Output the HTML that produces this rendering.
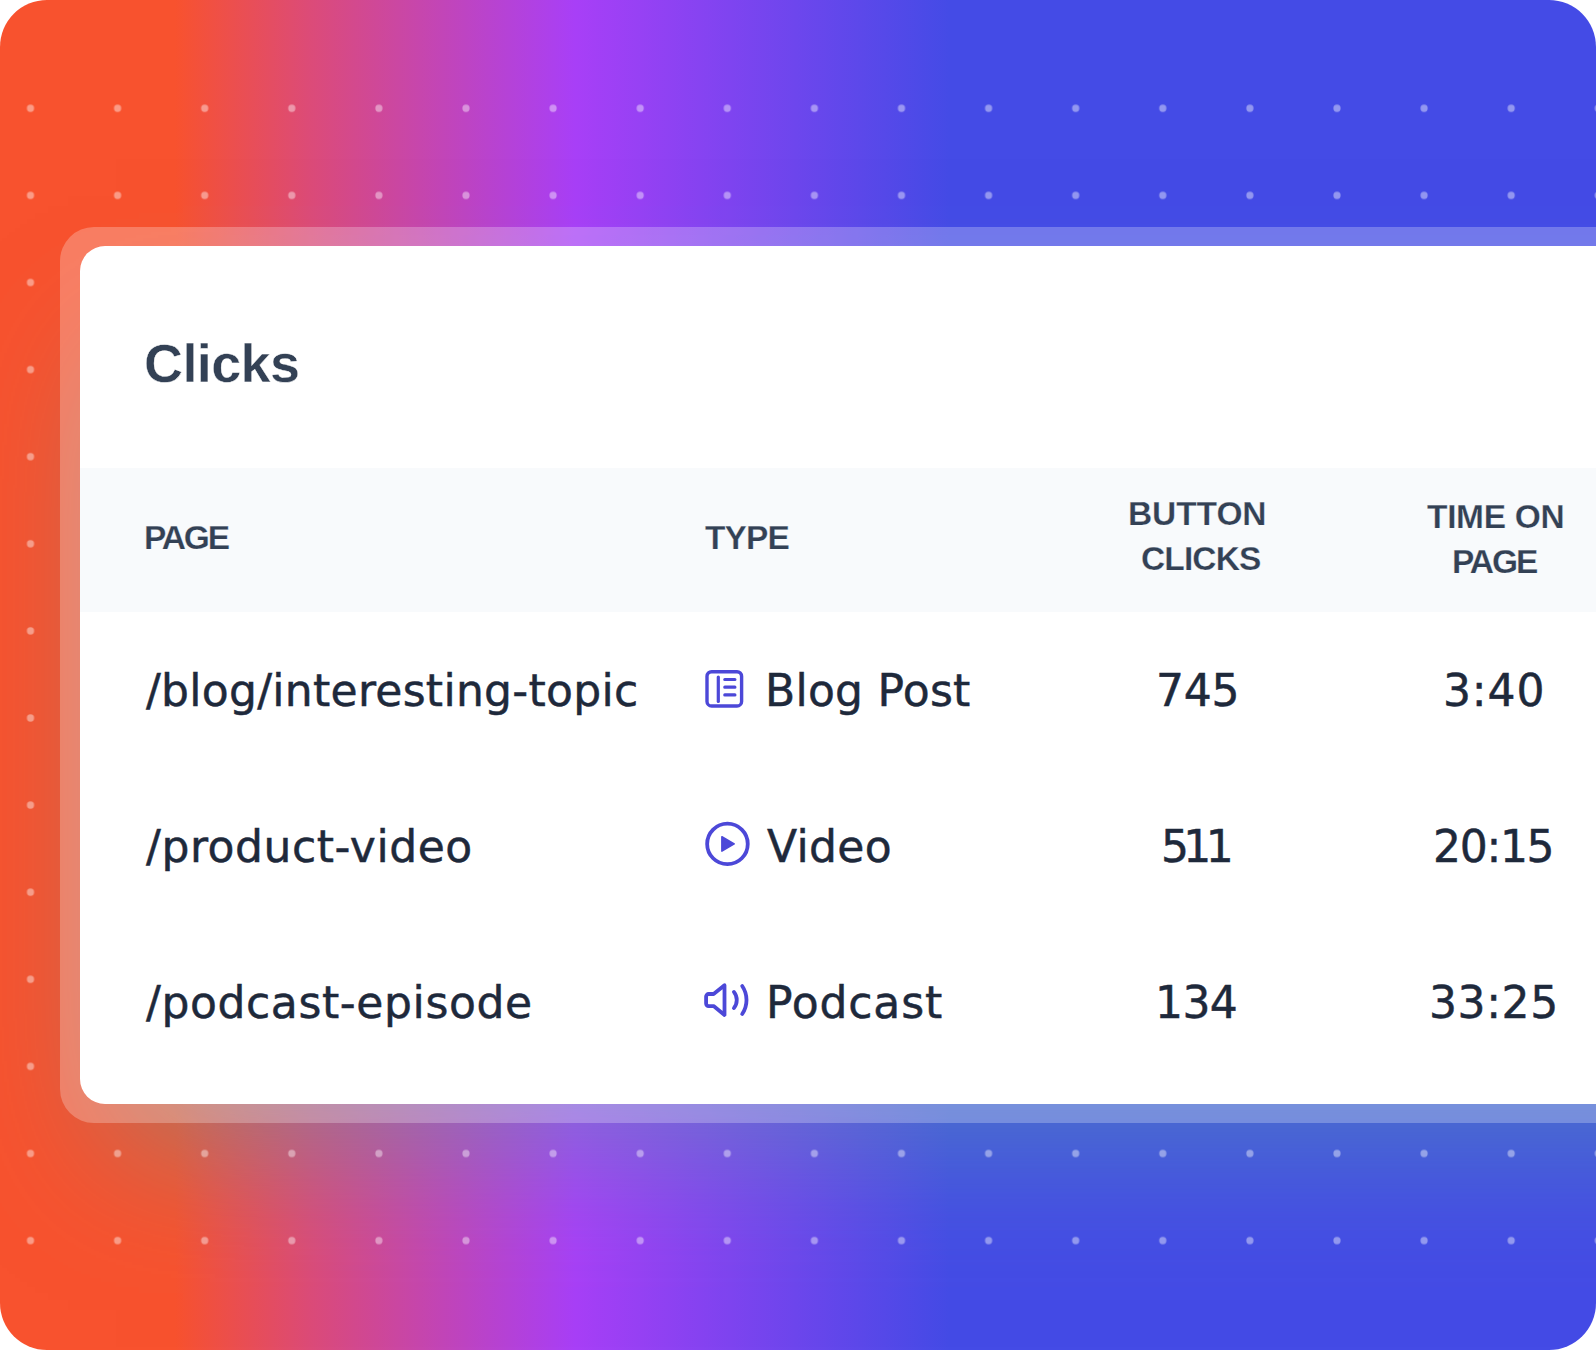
<!DOCTYPE html>
<html lang="en">
<head>
<meta charset="utf-8">
<title>Clicks</title>
<style>
*{box-sizing:border-box;margin:0;padding:0}
html,body{width:1596px;height:1350px;background:#fff;overflow:hidden}
body{font-family:"Liberation Sans",Arial,sans-serif;position:relative}
.bg{position:absolute;left:0;top:0;width:1596px;height:1350px;border-radius:47px;overflow:hidden;
background:linear-gradient(90deg,#f8522e 0px,#f8522e 175px,#dc4b78 310px,#a83ff7 575px,#444be6 950px,#444be6 1596px)}
.dots{position:absolute;left:0;top:0;width:1596px;height:1350px}
.card{position:absolute;left:60px;top:227px;width:1600px;height:896px;border-radius:34px 0 0 34px;background:rgba(255,255,255,.25)}
.inner{position:absolute;left:80px;top:246px;width:1600px;height:858px;border-radius:25px 0 0 25px;background:#fff;overflow:hidden}
.shadow{position:absolute;left:80px;top:246px;width:2400px;height:858px;border-radius:25px 0 0 25px;box-shadow:0 78px 135px -36px rgba(85,165,170,.5)}
.thead{position:absolute;left:0;top:222px;width:1600px;height:144px;background:#f8fafc}
.t{position:absolute;white-space:nowrap;line-height:1}
.title{color:#334155;font-weight:bold;font-size:54px;-webkit-text-stroke:.4px #fff}
.th{color:#334155;font-weight:bold;font-size:33.5px;-webkit-text-stroke:.25px #f8fafc}
.td{color:#1e293b;font-size:44px;-webkit-text-stroke:.5px #1e293b;font-family:"DejaVu Sans","Liberation Sans",sans-serif}
svg.ic{position:absolute;overflow:visible}
</style>
</head>
<body>
<div class="bg">
<div class="shadow"></div>
<svg class="dots" width="1596" height="1350">
<defs><pattern id="dp" x="-13.05" y="64.75" width="87.1" height="87.1" patternUnits="userSpaceOnUse"><circle cx="43.55" cy="43.55" r="3.6" fill="#fff" fill-opacity=".42"/></pattern></defs>
<rect x="0" y="64.75" width="1596" height="1219.4" fill="url(#dp)"/>
</svg>
<div class="card"></div>
<div class="inner">
<div class="thead"></div>
</div>

<div id="t0" class="t title" style="left:144.00px;top:336.00px;letter-spacing:-0.620px">Clicks</div>
<div id="h0" class="t th" style="left:144.00px;top:521.00px;letter-spacing:-2.133px">PAGE</div>
<div id="h1" class="t th" style="left:705.00px;top:521.00px;letter-spacing:-0.900px">TYPE</div>
<div id="h2" class="t th" style="left:1128.00px;top:497.00px;letter-spacing:-0.080px">BUTTON</div>
<div id="h3" class="t th" style="left:1141.00px;top:542.00px;letter-spacing:-0.880px">CLICKS</div>
<div id="h4" class="t th" style="left:1427.00px;top:500.00px;letter-spacing:-0.333px">TIME ON</div>
<div id="h5" class="t th" style="left:1452.00px;top:545.00px;letter-spacing:-2.033px">PAGE</div>
<div id="a0" class="t td" style="left:146.00px;top:668.90px;letter-spacing:0.282px">/blog/interesting-topic</div>
<div id="a1" class="t td" style="left:146.00px;top:824.90px;letter-spacing:0.562px">/product-video</div>
<div id="a2" class="t td" style="left:146.00px;top:980.90px;letter-spacing:0.613px">/podcast-episode</div>
<div id="b0" class="t td" style="left:765.00px;top:668.90px;letter-spacing:0.250px">Blog Post</div>
<div id="b1" class="t td" style="left:767.00px;top:824.90px;letter-spacing:0.350px">Video</div>
<div id="b2" class="t td" style="left:766.00px;top:980.90px;letter-spacing:0.833px">Podcast</div>
<div id="c0" class="t td" style="left:1156.00px;top:668.90px;letter-spacing:-0.200px">745</div>
<div id="c1" class="t td" style="left:1161.00px;top:824.90px;letter-spacing:-5.650px">511</div>
<div id="c2" class="t td" style="left:1155.00px;top:980.90px;letter-spacing:-0.600px">134</div>
<div id="d0" class="t td" style="left:1443.00px;top:668.90px;letter-spacing:0.867px">3:40</div>
<div id="d1" class="t td" style="left:1433.00px;top:824.90px;letter-spacing:-1.300px">20:15</div>
<div id="d2" class="t td" style="left:1429.00px;top:980.90px;letter-spacing:0.600px">33:25</div>
<svg class="ic" style="left:0;top:0" width="1596" height="1350" viewBox="0 0 1596 1350" fill="none" stroke="#4c48d8" stroke-linecap="round" stroke-linejoin="round">
<g stroke-width="3.4">
<rect x="707" y="671.7" width="34.6" height="34.3" rx="4.6" ry="4.6"/>
<path d="M718.3 677.1V701.5" stroke-width="3.2"/>
<path d="M724.8 679.5H734.9M724.8 687.2H734.9M724.8 694.9H734.9" stroke-width="3.2"/>
</g>
<g stroke-width="3.8">
<circle cx="727.45" cy="843.9" r="20.3"/>
<path d="M721.9 836.7L734.2 843.9L721.9 851.1Z" fill="#4c48d8" stroke-width="1.6"/>
</g>
<g stroke-width="3.8">
<path d="M724.5 985.2L713.6 994H708.6a2.5 2.5 0 0 0 -2.5 2.5V1003.6a2.5 2.5 0 0 0 2.5 2.5H713.6L724.5 1014.9Z"/>
<path d="M733.9 991.9A12.9 12.9 0 0 1 733.9 1008.1"/>
<path d="M742.2 986A24.9 24.9 0 0 1 742.2 1014"/>
</g>
</svg>

</div>
</body>
</html>
